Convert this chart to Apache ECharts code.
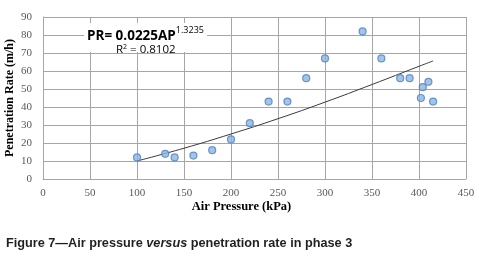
<!DOCTYPE html>
<html>
<head>
  <meta charset="UTF-8">
  <title>Air pressure versus penetration rate</title>
  <style>
    body { margin: 0; padding: 0; background: #fff; }
    #chart { width: 479px; height: 258px; }
  </style>
  <script src="https://cdn.jsdelivr.net/npm/echarts@6/dist/echarts.min.js"></script>
</head>
<body>
  <div id="chart"></div>
  <script>
    // measured points (kPa, m/h)
    var airPressure = [100, 130, 140, 160, 180, 200, 220, 240, 260, 280, 300, 340, 360, 380, 390, 402, 404, 410, 415];
    var penRate     = [12, 14, 12, 13, 16, 22, 31, 43, 43, 56, 67, 82, 67, 56, 56, 45, 51, 54, 43];
    // power trend line
    var trendX = [100, 150, 200, 250, 300, 350, 400, 415];
    var trendY = [10, 17.1, 25, 33.5, 42.7, 52.5, 62.6, 65.6];
    var xTicks = [0, 50, 100, 150, 200, 250, 300, 350, 400, 450];
    var yTicks = [0, 10, 20, 30, 40, 50, 60, 70, 80, 90];

    var chart = echarts.init(document.getElementById('chart'));
    var gridColor = '#a6a6a6';
    var serif = '"Liberation Serif", "DejaVu Serif", serif';
    var sans = '"Open Sans", "Liberation Sans", sans-serif';

    chart.setOption({
      animation: false,
      grid: { left: 43, right: 13, top: 17, bottom: 79, containLabel: false, outerBoundsMode: 'none' },
      title: [
        {
          text: '{b|Figure 7\u2014Air pressure }{i|versus}{b| penetration rate in phase 3}',
          left: 1, top: 232,
          textStyle: {
            rich: {
              b: { fontFamily: '"Liberation Sans", Arial, sans-serif', fontWeight: 'bold', fontSize: 12.7, color: '#231f20' },
              i: { fontFamily: '"Liberation Sans", Arial, sans-serif', fontWeight: 'bold', fontStyle: 'italic', fontSize: 12.7, color: '#231f20' }
            }
          }
        }
      ],
      graphic: [
        // white label box of the trend equation
        {
          type: 'rect', shape: { x: 84, y: 23, width: 123, height: 29 },
          style: { fill: '#fff' }, z: 10
        },
        {
          type: 'text', left: 87, top: 26, z: 11,
          style: {
            text: '{m|PR= 0.0225AP}{s|1.3235}',
            rich: {
              m: { fontFamily: sans, fontWeight: 'bold', fontSize: 13.5, color: '#000', verticalAlign: 'bottom' },
              s: { fontFamily: sans, fontSize: 9, color: '#000', verticalAlign: 'top', padding: [0, 0, 8, 0] }
            }
          }
        },
        {
          type: 'text', left: 116, top: 43, z: 11,
          style: {
            text: '{m|R}{s|2}{m| = 0.8102}',
            rich: {
              m: { fontFamily: sans, fontSize: 11.5, color: '#000' },
              s: { fontFamily: sans, fontSize: 7, color: '#000', padding: [0, 0, 6, 0] }
            }
          }
        }
      ],
      xAxis: {
        type: 'value', min: xTicks[0], max: xTicks[xTicks.length - 1], interval: 50,
        name: 'Air Pressure (kPa)', nameLocation: 'middle', nameGap: 21, nameMoveOverlap: false,
        nameTextStyle: { fontFamily: serif, fontWeight: 'bold', fontSize: 12.5, color: '#000', padding: [0, 26, 0, 0] },
        axisLine: { lineStyle: { color: gridColor } },
        axisTick: { show: false },
        axisLabel: { fontFamily: serif, fontSize: 11, color: '#595959', margin: 9 },
        splitLine: { show: true, lineStyle: { color: gridColor, width: 1 } }
      },
      yAxis: {
        type: 'value', min: yTicks[0], max: yTicks[yTicks.length - 1], interval: 10,
        name: 'Penetration Rate (m/h)', nameLocation: 'middle', nameGap: 27, nameMoveOverlap: false,
        nameTextStyle: { fontFamily: serif, fontWeight: 'bold', fontSize: 12, color: '#000' },
        axisLine: { show: true, lineStyle: { color: gridColor } },
        axisTick: { show: false },
        axisLabel: { fontFamily: serif, fontSize: 11, color: '#595959', margin: 11 },
        splitLine: { show: true, lineStyle: { color: gridColor, width: 1 } }
      },
      series: [
        {
          type: 'scatter',
          data: airPressure.map(function (x, i) { return [x, penRate[i]]; }),
          symbolSize: 7,
          itemStyle: { color: '#8db4e2', borderColor: '#4f81bd', borderWidth: 1.2 },
          z: 3
        },
        {
          type: 'line',
          data: trendX.map(function (x, i) { return [x, trendY[i]]; }),
          smooth: true,
          showSymbol: false,
          lineStyle: { color: '#3a3a3a', width: 1 },
          z: 2
        }
      ]
    });
  </script>
</body>
</html>
